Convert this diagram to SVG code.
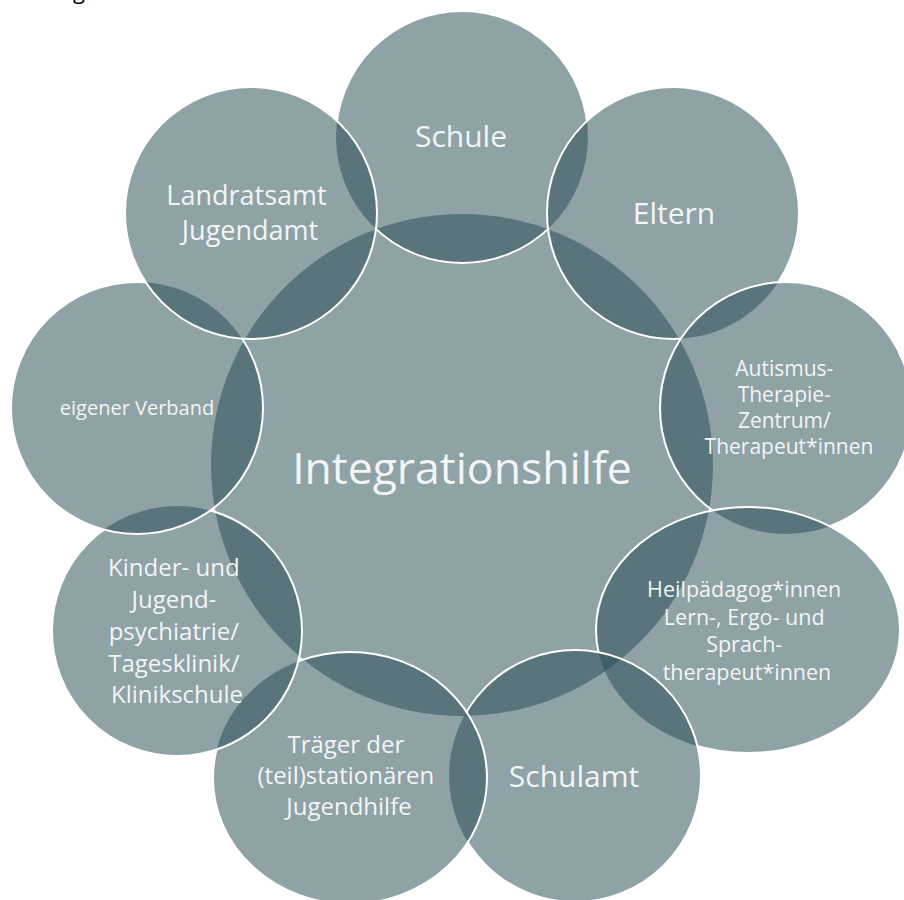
<svg xmlns="http://www.w3.org/2000/svg" xmlns:xlink="http://www.w3.org/1999/xlink" width="904" height="900" viewBox="0 0 904 900">
  <style>
    .disc { fill: #294c54; fill-opacity: 0.52; }
    .ring { fill: none; stroke: #ffffff; stroke-width: 2; }
    .lbl { font-family: "Open Sans", "Noto Sans", "DejaVu Sans", sans-serif; font-weight: 400; fill: #f2f5f5; text-anchor: middle; }
  </style>
  <defs>
    <circle id="shC" cx="462" cy="465" r="251"/>
    <circle id="shS" cx="462" cy="137" r="126"/>
    <circle id="shE" cx="673" cy="213" r="126"/>
    <circle id="shA" cx="786" cy="408" r="126"/>
    <ellipse id="shH" cx="748" cy="630" rx="152" ry="123"/>
    <circle id="shSa" cx="575" cy="776" r="126"/>
    <ellipse id="shT" cx="350" cy="778" rx="137" ry="126"/>
    <circle id="shK" cx="177" cy="631" r="125"/>
    <circle id="shV" cx="137" cy="408" r="126"/>
    <circle id="shL" cx="251" cy="213" r="126"/>
    <mask id="mS" maskUnits="userSpaceOnUse" x="0" y="0" width="904" height="900">
      <rect width="904" height="900" fill="#fff"/>
      <use xlink:href="#shE" fill="#000"/>
      <use xlink:href="#shL" fill="#000"/>
    </mask>
    <mask id="mE" maskUnits="userSpaceOnUse" x="0" y="0" width="904" height="900">
      <rect width="904" height="900" fill="#fff"/>
      <use xlink:href="#shA" fill="#000"/>
    </mask>
    <mask id="mA" maskUnits="userSpaceOnUse" x="0" y="0" width="904" height="900">
      <rect width="904" height="900" fill="#fff"/>
      <use xlink:href="#shH" fill="#000"/>
    </mask>
    <mask id="mH" maskUnits="userSpaceOnUse" x="0" y="0" width="904" height="900">
      <rect width="904" height="900" fill="#fff"/>
      <use xlink:href="#shSa" fill="#000"/>
    </mask>
    <mask id="mSa" maskUnits="userSpaceOnUse" x="0" y="0" width="904" height="900">
      <rect width="904" height="900" fill="#fff"/>
      <use xlink:href="#shT" fill="#000"/>
    </mask>
    <mask id="mT" maskUnits="userSpaceOnUse" x="0" y="0" width="904" height="900">
      <rect width="904" height="900" fill="#fff"/>
      <use xlink:href="#shK" fill="#000"/>
    </mask>
    <mask id="mK" maskUnits="userSpaceOnUse" x="0" y="0" width="904" height="900">
      <rect width="904" height="900" fill="#fff"/>
      <use xlink:href="#shV" fill="#000"/>
    </mask>
    <mask id="mV" maskUnits="userSpaceOnUse" x="0" y="0" width="904" height="900">
      <rect width="904" height="900" fill="#fff"/>
      <use xlink:href="#shL" fill="#000"/>
    </mask>
  </defs>

  <rect width="904" height="900" fill="#ffffff"/>
  <text x="73" y="-1" font-family="'Open Sans', sans-serif" font-size="22" fill="#000000">g</text>

  <g id="connectors"></g>

  <g id="node-integrationshilfe">
    <use xlink:href="#shC" class="disc"/>
    <text class="lbl" x="462" y="484" font-size="44.5">Integrationshilfe</text>
  </g>

  <g id="node-schule">
    <use xlink:href="#shS" class="disc"/>
    <use xlink:href="#shS" class="ring" mask="url(#mS)"/>
    <text class="lbl" x="461" y="147" font-size="30">Schule</text>
  </g>

  <g id="node-eltern">
    <use xlink:href="#shE" class="disc"/>
    <use xlink:href="#shE" class="ring" mask="url(#mE)"/>
    <text class="lbl" x="674" y="224" font-size="30">Eltern</text>
  </g>

  <g id="node-autismus">
    <use xlink:href="#shA" class="disc"/>
    <use xlink:href="#shA" class="ring" mask="url(#mA)"/>
    <text class="lbl" font-size="21">
      <tspan x="787" y="376">Autismus-</tspan>
      <tspan x="787" y="402">Therapie-</tspan>
      <tspan x="787" y="428">Zentrum/</tspan>
      <tspan x="789" y="454">Therapeut*innen</tspan>
    </text>
  </g>

  <g id="node-heilpaedagogik">
    <use xlink:href="#shH" class="disc"/>
    <use xlink:href="#shH" class="ring" mask="url(#mH)"/>
    <text class="lbl" font-size="21.5">
      <tspan x="747" y="597">Heilpädagog*innen</tspan>
      <tspan x="747" y="624.5">Lern-, Ergo- und</tspan>
      <tspan x="747" y="652">Sprach-</tspan>
      <tspan x="747" y="680">therapeut*innen</tspan>
    </text>
  </g>

  <g id="node-schulamt">
    <use xlink:href="#shSa" class="disc"/>
    <use xlink:href="#shSa" class="ring" mask="url(#mSa)"/>
    <text class="lbl" x="574" y="787" font-size="30">Schulamt</text>
  </g>

  <g id="node-traeger">
    <use xlink:href="#shT" class="disc"/>
    <use xlink:href="#shT" class="ring" mask="url(#mT)"/>
    <text class="lbl" font-size="24">
      <tspan x="349" y="753">Träger der</tspan>
      <tspan x="349" y="784">(teil)stationären</tspan>
      <tspan x="349" y="815">Jugendhilfe</tspan>
    </text>
  </g>

  <g id="node-kinder">
    <use xlink:href="#shK" class="disc"/>
    <use xlink:href="#shK" class="ring" mask="url(#mK)"/>
    <text class="lbl" font-size="24">
      <tspan x="177" y="576">Kinder- und</tspan>
      <tspan x="177" y="608">Jugend-</tspan>
      <tspan x="177" y="640">psychiatrie/</tspan>
      <tspan x="177" y="672">Tagesklinik/</tspan>
      <tspan x="177" y="703">Klinikschule</tspan>
    </text>
  </g>

  <g id="node-verband">
    <use xlink:href="#shV" class="disc"/>
    <use xlink:href="#shV" class="ring" mask="url(#mV)"/>
    <text class="lbl" x="137" y="415" font-size="20">eigener Verband</text>
  </g>

  <g id="node-landratsamt">
    <use xlink:href="#shL" class="disc"/>
    <use xlink:href="#shL" class="ring"/>
    <text class="lbl" font-size="27">
      <tspan x="250" y="205">Landratsamt</tspan>
      <tspan x="250" y="240">Jugendamt</tspan>
    </text>
  </g>
</svg>
